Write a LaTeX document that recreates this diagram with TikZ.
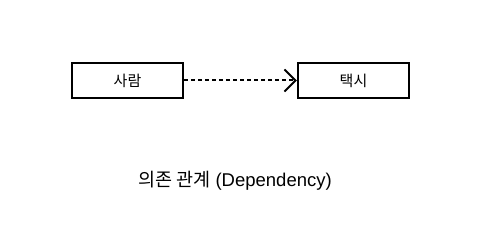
\documentclass[tikz,border=0pt]{standalone}
\usepackage{fontspec}
\setmainfont{Liberation Sans}
\newfontfamily\kr{Noto Sans CJK KR}
\usetikzlibrary{arrows.meta}
\begin{document}
\begin{tikzpicture}[x=1pt,y=1pt,
  cls/.style={draw,line width=2.2pt,minimum width=111pt,minimum height=35pt,inner sep=0pt,font=\kr\fontsize{15}{17}\selectfont},
  dep/.style={line width=2pt,dash pattern=on 4pt off 3pt,-{Straight Barb[length=11pt,width=22pt,line width=2pt]}}]
\useasboundingbox (0,0) rectangle (486,225);
\node[cls] (a) at (127.5,144.5) {사람};
\node[cls] (b) at (353.5,144.5) {택시};
\draw[dep] (a.east) -- (b.west);
\node (cap) at (235,44) {\fontsize{18.5}{21}\selectfont{\kr 의존 관계} (Dependency)};
\end{tikzpicture}
\end{document}
